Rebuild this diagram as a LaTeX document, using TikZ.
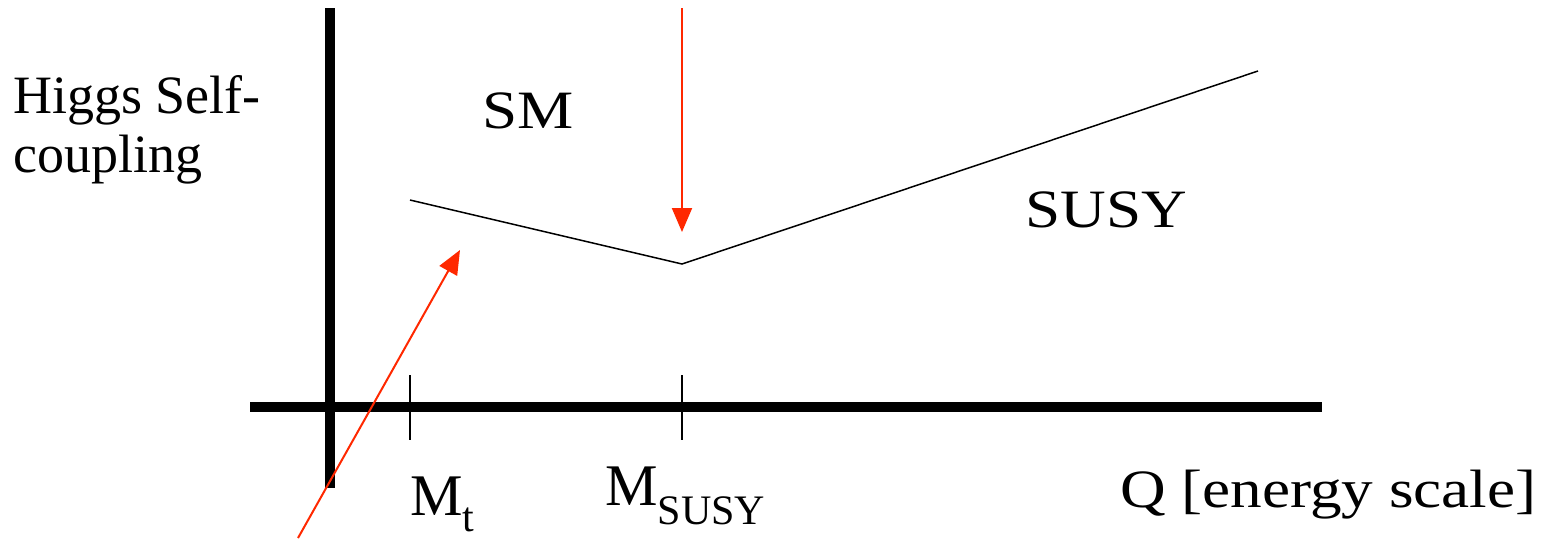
\documentclass[tikz,border=0pt]{standalone}
\usepackage{fontspec}
\setmainfont{Liberation Serif}
\newfontfamily\widefont{Liberation Serif}[FakeStretch=1.17]
\usetikzlibrary{positioning,arrows.meta}
\definecolor{arrowred}{RGB}{255,40,0}
\newcommand{\msub}[2]{M\raisebox{-#1}{\fontsize{21}{24}\selectfont #2}}

\begin{document}
\begin{tikzpicture}[x=0.5pt, y=-0.5pt,
  axis/.style={line width=5pt},
  tickmark/.style={line width=0.7pt},
  curve/.style={line width=0.75pt},
  pointer/.style={arrowred, line width=1pt, -{Triangle[width=10pt,length=12pt]}},
  lbl/.style={font=\fontsize{27}{30}\selectfont, inner sep=0pt, anchor=base west},
  widelbl/.style={lbl, font=\widefont\fontsize{27}{30}\selectfont},
  mlbl/.style={lbl, font=\fontsize{29.5}{32}\selectfont}]
\useasboundingbox (0,0) rectangle (1541,538);
% axes, pixel coordinates of the reference, y grows downwards
\coordinate (yaxtop) at (330,8);
\coordinate (yaxbot) at (330,488);
\coordinate (xaxl) at (250,407);
\coordinate (xaxr) at (1322,407);
\draw[axis] (yaxtop) -- (yaxbot);
\draw[axis] (xaxl) -- (xaxr);
% ticks at the two scales
\foreach \nm/\x in {mt/410,msusy/682}{%
  \coordinate (\nm top) at (\x,375);
  \coordinate (\nm bot) at (\x,440);
  \draw[tickmark] (\nm top) -- (\nm bot);}
% running coupling
\coordinate (smstart) at (410,200);
\coordinate (kink) at (682,264);
\coordinate (susyend) at (1258,71);
\draw[curve] (smstart) -- (kink) -- (susyend);
% red pointers
\coordinate (topfrom) at (682,8);
\coordinate (topto) at (682,232);
\coordinate (lowfrom) at (298,538);
\coordinate (lowto) at (460,250);
\draw[pointer] (topfrom) -- (topto);
\draw[pointer] (lowfrom) -- (lowto);
% labels
\node[lbl] (ylab1) at (13,113) {Higgs Self-};
\node[lbl] (ylab2) at (13,172) {coupling};
\node[widelbl] (smlab) at (482,128) {SM};
\node[widelbl] (susylab) at (1025,227) {SUSY};
\node[mlbl] (mtlab) at (410,515) {\msub{8pt}{t}};
\node[mlbl] (msusylab) at (605,505) {\msub{9.5pt}{SUSY}};
\node[widelbl, anchor=base east] (qlab) at (1537,507) {Q [energy scale]};
\end{tikzpicture}
\end{document}
